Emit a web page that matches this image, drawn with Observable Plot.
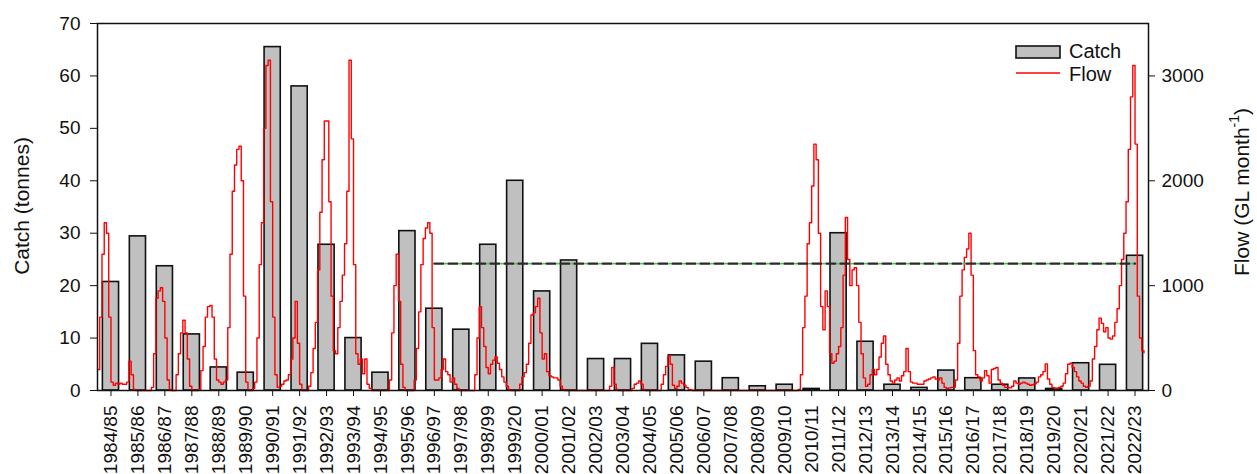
<!DOCTYPE html>
<html><head><meta charset="utf-8">
<script src="https://cdn.jsdelivr.net/npm/d3@7"></script>
<script src="https://cdn.jsdelivr.net/npm/@observablehq/plot@0.6"></script>
<style>
body{margin:0;background:#fff}
#chart{position:relative;width:1257px;height:474px;overflow:hidden}
</style>
</head><body><div id="chart"></div>
<script>
// ---- data ----
const seasons = ["1984/85","1985/86","1986/87","1987/88","1988/89","1989/90","1990/91","1991/92","1992/93","1993/94",
"1994/95","1995/96","1996/97","1997/98","1998/99","1999/20","2000/01","2001/02","2002/03","2003/04",
"2004/05","2005/06","2006/07","2007/08","2008/09","2009/10","2010/11","2011/12","2012/13","2013/14",
"2014/15","2015/16","2016/17","2017/18","2018/19","2019/20","2020/21","2021/22","2022/23"];

const catchTonnes = [20.7,29.4,23.7,10.7,4.4,3.4,65.5,58.0,27.8,10.0,
3.4,30.4,15.6,11.6,27.8,40.0,18.9,24.8,6.0,6.0,
8.9,6.7,5.5,2.35,0.8,1.1,0.3,30.0,9.3,1.1,
0.5,3.8,2.35,1.1,2.3,0.3,5.2,4.9,25.7];

// monthly flow (GL month^-1), 12 months per season
const flowBySeason = [
[200,700,1300,1600,1500,700,80,50,70,60,70,60],
[60,80,280,150,10,0,0,0,0,0,0,0],
[30,350,880,950,980,850,500,100,10,0,0,150],
[350,550,670,550,300,40,0,0,0,10,190,420],
[700,800,810,700,300,100,80,60,80,100,600,1300],
[1900,2150,2300,2330,2000,900,80,0,0,20,80,500],
[1200,1600,2500,3100,3150,1800,700,150,30,40,60,90],
[100,150,300,500,850,450,60,0,0,0,40,170],
[400,650,1150,1700,2200,2570,2570,1800,900,380,350,600],
[850,1100,1400,1900,3150,2400,1200,350,250,300,160,300],
[60,20,0,0,0,0,0,0,0,0,100,550],
[1000,1300,850,250,30,0,0,0,0,100,400,750],
[1200,1450,1550,1600,1500,600,100,100,120,200,300,180],
[150,80,120,60,20,0,0,0,0,0,0,0],
[150,500,800,600,420,220,160,250,290,320,260,200],
[130,80,40,10,0,0,0,0,60,130,170,250],
[450,720,740,800,880,550,300,350,180,140,130,120],
[120,100,40,10,0,0,0,0,0,0,0,0],
[0,0,0,0,0,0,0,0,0,0,0,0],
[40,220,60,10,0,0,0,0,0,0,20,60],
[70,90,60,10,0,0,0,0,0,0,0,60],
[150,230,330,250,50,20,40,90,70,50,30,10],
[5,0,0,0,0,0,0,0,0,0,0,0],
[0,0,0,0,0,0,0,0,0,0,0,0],
[0,0,0,0,0,0,0,0,0,0,0,0],
[0,0,0,0,0,0,0,0,0,0,0,0],
[10,150,600,900,1400,1600,1950,2350,2200,1500,800,580],
[950,800,350,260,280,350,420,600,1100,1650,1250,1000],
[1150,1170,1000,650,350,120,40,60,150,200,150,200],
[320,450,520,250,150,90,70,100,120,90,140,180],
[400,180,80,70,70,60,60,60,90,100,110,120],
[130,110,100,120,70,30,20,25,30,30,100,450],
[900,1150,1270,1350,1500,1100,380,150,130,90,120,190],
[140,70,200,210,220,100,70,50,30,30,25,40],
[90,70,60,70,80,70,60,50,55,65,80,130],
[150,180,254,110,60,30,20,20,30,40,70,160],
[250,260,220,180,130,90,70,40,30,40,90,300],
[420,580,690,640,560,600,500,490,520,650,780,1000],
[1250,1500,1800,2300,2800,3100,2350,900,500,380,360]
];

const catchTicks = [0,10,20,30,40,50,60,70];
const flowTicks = [0,1000,2000,3000];
const flowPerTonne = 50;          // right axis: 0–3500 GL over the 0–70 t range
const refLevel = 24.2;            // dashed reference level (tonnes)
const refFrom = "1996/97", refTo = "2022/23";

// ---- derived tables ----
const bars = seasons.map((s, i) => ({i, season: s, c: catchTonnes[i]}));
const flow = flowBySeason.flatMap((vals, i) => vals.map((v, m) => ({t: i - 0.5 + m / 12, v})));
const refPts = [refFrom, refTo].map(s => ({i: seasons.indexOf(s), v: refLevel}));

const plot = Plot.plot({
  width: 1257, height: 474,
  marginLeft: 97, marginRight: 109, marginTop: 23, marginBottom: 84,
  x: {domain: [-0.5, seasons.length - 0.5]},
  y: {domain: [0, 70]},
  style: {fontFamily: "'Liberation Sans', Arial, sans-serif", fontSize: "19px", color: "#111", background: "#fff"},
  marks: [
    Plot.rectY(bars, {x1: d => d.i - 0.3, x2: d => d.i + 0.3, y: "c", fill: "#c0c0c0", stroke: "#111", strokeWidth: 1.6}),
    Plot.line(flow, {x: "t", y: d => d.v / flowPerTonne, stroke: "#ff0000", strokeWidth: 1.4, curve: "step-after"}),
    Plot.line(refPts, {x: "i", y: "v", stroke: "#2a2a2a", strokeWidth: 2.4, strokeDasharray: "9,5"}),
    Plot.line(refPts, {x: "i", y: "v", stroke: "#33dd33", strokeWidth: 1.6, strokeDasharray: "1.5,12.5", strokeDashoffset: -10.75}),
    Plot.frame({stroke: "#111", strokeWidth: 1.5}),
    Plot.axisY({ticks: catchTicks, anchor: "left", tickSize: 7, tickPadding: 10, label: null}),
    Plot.axisY({ticks: flowTicks.map(v => v / flowPerTonne), anchor: "right", tickSize: 6, tickPadding: 7,
      tickFormat: d => String(Math.round(d * flowPerTonne)), label: null}),
    Plot.axisX({ticks: d3.range(seasons.length), tickRotate: -90, tickSize: 6, tickPadding: 9,
      tickFormat: i => seasons[i], label: null})
  ]
});

const svg = d3.select(plot);
// axis titles
svg.append("text").attr("transform", "translate(23,206) rotate(-90)")
  .attr("text-anchor", "middle").attr("dominant-baseline", "middle")
  .attr("font-size", 21).attr("fill", "#111").text("Catch (tonnes)");
const rt = svg.append("text").attr("transform", "translate(1243,192) rotate(-90)")
  .attr("text-anchor", "middle").attr("dominant-baseline", "middle")
  .attr("font-size", 21).attr("fill", "#111");
rt.append("tspan").text("Flow (GL month");
rt.append("tspan").attr("font-size", 14).attr("dy", "-0.6em").text("-1");
rt.append("tspan").attr("dy", "0.4em").text(")");

// legend
const lg = svg.append("g").attr("font-size", 20).attr("fill", "#111").attr("text-anchor", "start");
lg.append("rect").attr("x", 1016).attr("y", 46).attr("width", 44).attr("height", 12)
  .attr("fill", "#c0c0c0").attr("stroke", "#111").attr("stroke-width", 1.6);
lg.append("text").attr("x", 1069).attr("y", 58).attr("text-anchor", "start").text("Catch");
lg.append("line").attr("x1", 1016).attr("x2", 1060).attr("y1", 73).attr("y2", 73)
  .attr("stroke", "#ff0000").attr("stroke-width", 1.4);
lg.append("text").attr("x", 1069).attr("y", 81).attr("text-anchor", "start").text("Flow");

document.getElementById("chart").appendChild(plot);
</script>
</body></html>
